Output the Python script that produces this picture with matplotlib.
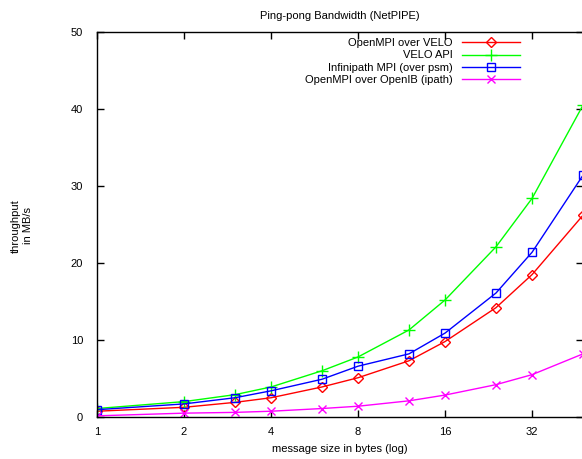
import matplotlib
matplotlib.use("Agg")
import matplotlib.pyplot as plt
from matplotlib.ticker import FixedLocator, NullLocator

plt.rcParams['font.family'] = ['Liberation Sans', 'DejaVu Sans']

sizes = [1, 2, 3, 4, 6, 8, 12, 16, 24, 32, 48]
openmpi_velo = [0.75, 1.26, 1.9, 2.5, 3.9, 5.1, 7.3, 9.8, 14.2, 18.5, 26.2]
velo_api = [1.1, 2.0, 2.9, 3.9, 6.0, 7.8, 11.3, 15.2, 22.1, 28.4, 40.5]
infinipath = [0.95, 1.7, 2.5, 3.4, 4.9, 6.6, 8.2, 10.9, 16.1, 21.4, 31.4]
openib = [0.15, 0.5, 0.6, 0.75, 1.1, 1.4, 2.1, 2.85, 4.2, 5.5, 8.2]

labels = ["OpenMPI over VELO", "VELO API", "Infinipath MPI (over psm)", "OpenMPI over OpenIB (ipath)"]
xticks = [1, 2, 4, 8, 16, 32]
yticks = [0, 10, 20, 30, 40, 50]

fig = plt.figure(figsize=(5.82, 4.59), dpi=100)
ax = fig.add_axes([97/582, 42/459, 486/582, 385/459])

ax.plot(sizes, openmpi_velo, color='#ff0000', lw=1, marker='D', ms=5, mfc='none', mew=1, label=labels[0])
ax.plot(sizes, velo_api, color='#00ff00', lw=1, marker='+', ms=8, mew=1, label=labels[1])
ax.plot(sizes, infinipath, color='#0000ff', lw=1, marker='s', ms=5.5, mfc='none', mew=1, label=labels[2])
ax.plot(sizes, openib, color='#ff00ff', lw=1, marker='x', ms=6, mew=1, label=labels[3])

ax.set_xscale('log', base=2)
ax.set_xlim(1, 48)
ax.set_ylim(0, 50)
ax.xaxis.set_major_locator(FixedLocator(xticks))
ax.xaxis.set_minor_locator(NullLocator())
ax.set_xticklabels([str(t) for t in xticks])
ax.yaxis.set_major_locator(FixedLocator(yticks))
ax.tick_params(direction='in', length=5, width=1, top=True, right=True, labelsize=8)
ax.tick_params(axis='x', pad=7)
ax.tick_params(axis='y', pad=10)
for s in ax.spines.values():
    s.set_linewidth(1)

ax.set_title("Ping-pong Bandwidth (NetPIPE)", fontsize=8, pad=9)
ax.set_xlabel("message size in bytes (log)", fontsize=8, labelpad=5)
fig.text(22/582, 1 - 226/459, "throughput\nin MB/s", rotation=90, fontsize=8, ha='center', va='center', multialignment='center')

leg = ax.legend(loc='upper right', bbox_to_anchor=(0.888, 1.006), fontsize=8, frameon=False,
                markerfirst=False, handlelength=5.2, handletextpad=0.9, labelspacing=0.22,
                borderaxespad=0.35)
for t in leg.get_texts():
    t.set_ha('right')
leg._legend_box.align = 'right'

fig.savefig("out.png", dpi=100)
